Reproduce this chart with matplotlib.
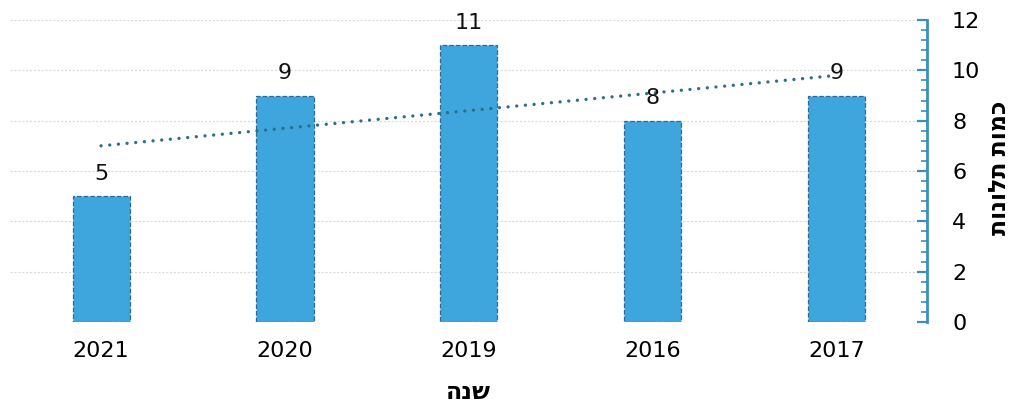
import matplotlib.pyplot as plt
from matplotlib.ticker import MultipleLocator
import numpy as np

# data
years = ['2021', '2020', '2019', '2016', '2017']
complaints = [5, 9, 11, 8, 9]
y_label = 'כמות תלונות'
x_label = 'שנה'

bar_color = '#3ea6dc'
edge_color = '#2b6c96'
trend_color = '#2c6f88'
spine_color = '#3a8fc0'

fig = plt.figure(figsize=(10.18, 4.09), dpi=100)
ax = fig.add_axes([10 / 1018, 1 - 322 / 409, 917 / 1018, 302 / 409])

x = np.arange(len(years))
ax.bar(x, complaints, width=0.31, color=bar_color, edgecolor=edge_color,
       linewidth=0.9, linestyle='--', zorder=2)

# bar value labels
for xi, v in zip(x, complaints):
    ax.annotate(str(v), (xi, v), xytext=(0, 9), textcoords='offset points',
                ha='center', va='bottom', fontsize=16, color='#111111', zorder=4)

# linear trendline
k, b = np.polyfit(x, complaints, 1)
ax.plot(x, k * x + b, color=trend_color, linestyle=(0, (0.01, 2.6)),
        linewidth=2.4, dash_capstyle='round', zorder=3)

ax.set_xlim(-0.495, 4.49)
ax.set_ylim(0, 12)
ax.set_xticks(x)
ax.set_xticklabels(years, fontsize=16)
ax.tick_params(axis='x', length=0, pad=14)

ax.yaxis.tick_right()
ax.yaxis.set_major_locator(MultipleLocator(2))
ax.yaxis.set_minor_locator(MultipleLocator(0.4))
ax.tick_params(axis='y', which='major', direction='in', length=7, width=1.6,
               color=spine_color, labelsize=16, pad=18)
ax.tick_params(axis='y', which='minor', direction='in', length=4, width=1.2,
               color=spine_color)

for side in ['left', 'top', 'bottom']:
    ax.spines[side].set_visible(False)
ax.spines['right'].set_color(spine_color)
ax.spines['right'].set_linewidth(2)

ax.grid(axis='y', which='major', color='#dadada', linestyle=(0, (2, 1.5)),
        linewidth=0.8, zorder=0)

# matplotlib has no bidi, so the Hebrew is given in visual order
fig.text(1000 / 1018, 1 - 168 / 409, y_label[::-1],
         family=['Open Sans', 'DejaVu Sans'], fontsize=17, fontweight='bold',
         rotation=90, ha='center', va='center')
ax.set_xlabel(x_label[::-1], family=['Open Sans', 'DejaVu Sans'],
              fontsize=17, fontweight='bold', labelpad=14)

fig.savefig('out.png', dpi=100)
